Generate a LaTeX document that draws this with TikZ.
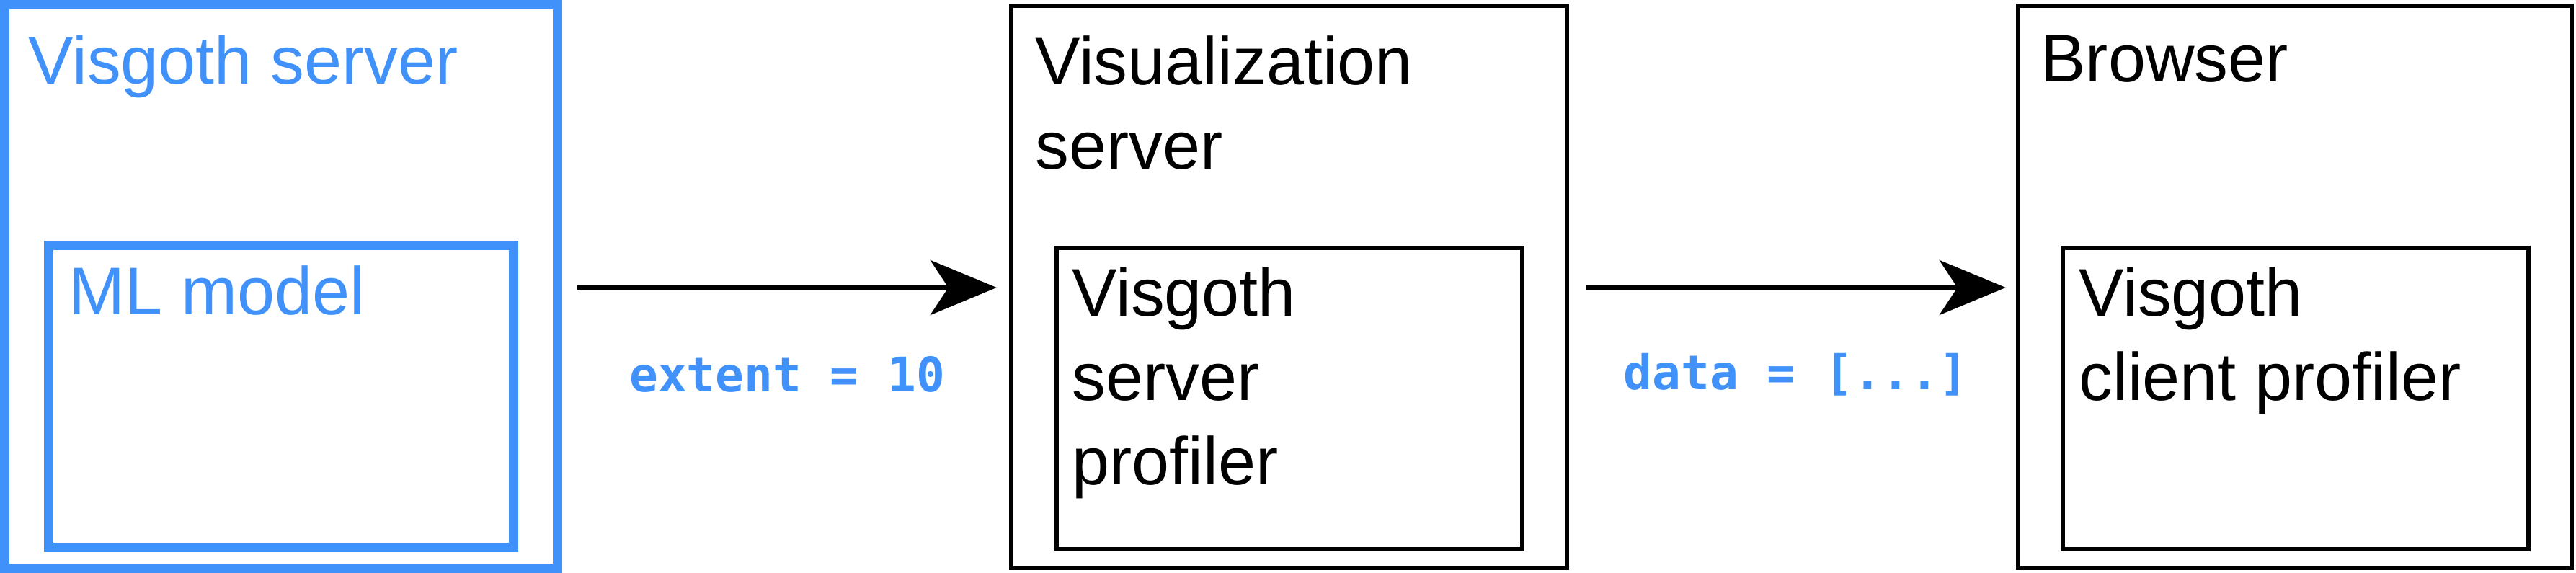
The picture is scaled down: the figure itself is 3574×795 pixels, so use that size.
\documentclass[tikz,border=0pt]{standalone}
\usepackage{fontspec}
\setmainfont{Liberation Sans}
\setmonofont{DejaVu Sans Mono}
\usepackage{xcolor}
\usepackage{tikz}
\usetikzlibrary{positioning,arrows.meta}

\definecolor{vgblue}{RGB}{64,145,250}

\tikzset{
    box/.style={draw=black, line width=0.06cm, inner sep=0pt},
    bluebox/.style={draw=vgblue, line width=0.13cm, inner sep=0pt},
    title/.style={font=\fontsize{26.6}{33.3}\selectfont, inner sep=0pt, anchor=north west, align=left},
    flow/.style={line width=0.06cm, -{Stealth[length=0.92cm, width=0.76cm, inset=0.25cm]}},
    codelabel/.style={font=\ttfamily\bfseries\fontsize{18.8}{22}\selectfont, text=vgblue, inner sep=0pt, anchor=base}
}

\begin{document}
\begin{tikzpicture}[x=0.01cm, y=-0.01cm]
    \useasboundingbox (0,0) rectangle (3574,795);

    % Visgoth server with the ML model inside
    \node[bluebox, minimum width=7.665cm, minimum height=7.82cm] (srv) at (390,397.5) {};
    \node[title, text=vgblue] (srvtitle) at ([shift={(39,48)}]srv.north west) {Visgoth server};
    \node[bluebox, minimum width=6.44cm, minimum height=4.18cm] (ml) at (390,550) {};
    \node[title, text=vgblue] (mltitle) at ([shift={(33.5,33.5)}]ml.north west) {ML model};

    % Visualization server
    \node[box, minimum width=7.71cm, minimum height=7.80cm] (vis) at (1788.5,398) {};
    \node[title] (vistitle) at ([shift={(36,44)}]vis.north west) {Visualization\\server};
    \node[box, minimum width=6.46cm, minimum height=4.18cm] (visprof) at (1789,553) {};
    \node[title] (visproftext) at ([shift={(24,29)}]visprof.north west) {Visgoth\\server\\profiler};

    % Browser
    \node[box, minimum width=7.68cm, minimum height=7.80cm] (br) at (3184,398) {};
    \node[title] (brtitle) at ([shift={(34,44)}]br.north west) {Browser};
    \node[box, minimum width=6.46cm, minimum height=4.18cm] (brprof) at (3185,553) {};
    \node[title] (brproftext) at ([shift={(25,29)}]brprof.north west) {Visgoth\\client profiler};

    % Messages between the tiers
    \draw[flow] ([shift={(21.5,1.5)}]srv.east) -- ([shift={(-17,1)}]vis.west)
        node[codelabel, midway, yshift=-1.44cm] (extentlabel) {extent = 10};
    \draw[flow] ([shift={(23,1)}]vis.east) -- ([shift={(-14,1)}]br.west)
        node[codelabel, midway, yshift=-1.41cm] (datalabel) {data = [...]};
\end{tikzpicture}
\end{document}
